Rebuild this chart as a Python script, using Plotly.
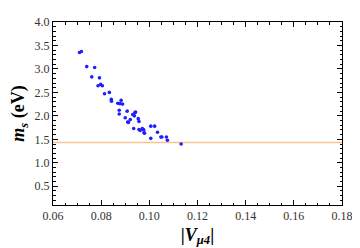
import plotly.graph_objects as go

v_mu4 = [0.0710, 0.0718, 0.0740, 0.0773, 0.0761, 0.0793, 0.0787, 0.0798, 0.0805,
         0.0814, 0.0834, 0.0842, 0.0843, 0.0869, 0.0878, 0.0883, 0.0889, 0.0875,
         0.0875, 0.0900, 0.0908, 0.0910, 0.0913, 0.0921, 0.0931, 0.0940, 0.0943,
         0.0938, 0.0954, 0.0957, 0.0935, 0.0957, 0.0962, 0.0971, 0.0977, 0.0980,
         0.0978, 0.1006, 0.1022, 0.1006, 0.1034, 0.1048, 0.1052, 0.1071, 0.1075,
         0.1132]
m_s = [3.35, 3.37, 3.05, 3.03, 2.83, 2.81, 2.64, 2.67, 2.64,
       2.47, 2.50, 2.35, 2.31, 2.27, 2.26, 2.33, 2.25, 2.12,
       2.04, 1.96, 2.10, 1.87, 1.86, 1.92, 2.03, 2.07, 2.08,
       2.00, 1.94, 1.88, 1.73, 1.71, 1.69, 1.73, 1.70, 1.63,
       1.64, 1.78, 1.78, 1.52, 1.65, 1.55, 1.55, 1.55, 1.48,
       1.40]
bound = 1.43
x_range = [0.06, 0.18]
y_range = [0.1, 4.0]

fig = go.Figure()
fig.add_trace(go.Scatter(x=x_range, y=[bound, bound], mode="lines",
                         line=dict(color="rgb(248,196,148)", width=1.5),
                         hoverinfo="skip", showlegend=False))
fig.add_trace(go.Scatter(x=v_mu4, y=m_s, mode="markers",
                         marker=dict(color="rgb(30,30,255)", size=3.6),
                         showlegend=False))

tickfont = dict(family="Liberation Serif", size=12, color="#333")
axis_common = dict(showgrid=False, zeroline=False, showline=True, linecolor="black",
                   linewidth=1, mirror="allticks", ticks="inside", ticklen=5,
                   tickcolor="black", tickwidth=1, tickfont=tickfont)

# page body has an 8px default margin, so the figure is sized to fit within it
fig.update_layout(
    width=352, height=240,
    margin=dict(l=43, r=15, t=7, b=43),
    paper_bgcolor="white", plot_bgcolor="white",
    xaxis=dict(range=x_range, dtick=0.02, tickformat=".2f",
               minor=dict(dtick=0.005, ticks="inside", ticklen=2.5, tickcolor="black"),
               title=dict(text="<b>|<i>V</i><sub><i>μ4</i></sub>|</b>",
                          font=dict(family="Liberation Serif", size=18, color="black"),
                          standoff=5),
               **axis_common),
    yaxis=dict(range=y_range, tickvals=[0.5, 1.0, 1.5, 2.0, 2.5, 3.0, 3.5, 4.0],
               tickformat=".1f",
               minor=dict(dtick=0.1, tick0=0, ticks="inside", ticklen=2.5, tickcolor="black"),
               title=dict(text="<b><i>m</i><sub><i>s</i></sub> (eV)</b>",
                          font=dict(family="Liberation Serif", size=18, color="black"),
                          standoff=7),
               **axis_common),
)

fig.write_html("out.html")
